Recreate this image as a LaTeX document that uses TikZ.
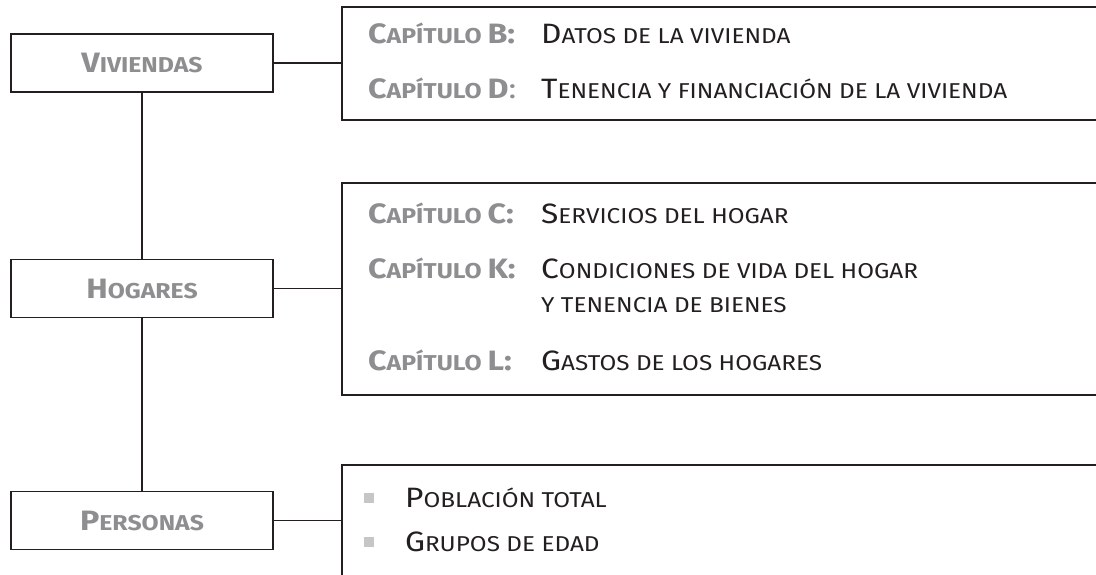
\documentclass[tikz,border=0pt]{standalone}
\usepackage{fontspec}
\usepackage{graphicx}
\setmainfont{Fira Sans}
\definecolor{labgray}{HTML}{8E8E90}
\definecolor{ink}{HTML}{231F20}
\definecolor{bulgray}{HTML}{C6C6C8}
\newcommand\SCx[2]{{\fontsize{28}{30}\selectfont #1}{\fontsize{21.5}{24}\selectfont #2}}
\newlength\tenw
\newlength\capw
\newcommand\HS[1]{\scalebox{\hsd}[1]{#1}}
\newcommand\HL[1]{\scalebox{\hsl}[1]{#1}}
\begin{document}
\settowidth\tenw{\SCx{T}{ENENCIA Y FINANCIACIÓN DE LA VIVIENDA}}%
\settowidth\capw{\bfseries\SCx{C}{APÍTULO }\SCx{B:}{}}%
\pgfmathsetmacro\hsd{466/\tenw}%
\pgfmathsetmacro\hsl{147/\capw}%
\begin{tikzpicture}[x=1pt,y=-1pt,
  leftbox/.style={draw=ink, line width=1.8pt, minimum width=262pt, minimum height=58pt, inner sep=0pt, text=labgray, font=\bfseries},
  lab/.style={anchor=base west, inner sep=0pt, text=labgray, font=\bfseries},
  desc/.style={anchor=base west, inner sep=0pt, text=ink, font=\mdseries},
  bul/.style={fill=bulgray, minimum size=10pt, inner sep=0pt},
  link/.style={draw=ink, line width=1.8pt},
  frame/.style={draw=ink, line width=1.8pt}]
\useasboundingbox (0,0) rectangle (1096,575);
\fill[white] (0,0) rectangle (1096,575);
\clip (0,0) rectangle (1096,575);

% left boxes
\node[leftbox] (viv) at (142,63) {\HL{\SCx{V}{IVIENDAS}}};
\node[leftbox] (hog) at (142,288.5) {\HL{\SCx{H}{OGARES}}};
\node[leftbox] (per) at (142,520.5) {\HL{\SCx{P}{ERSONAS}}};

\draw[link] (viv.south) -- (hog.north);
\draw[link] (hog.south) -- (per.north);

% right frames (open to the right)
\coordinate (b1tl) at (342,7);
\coordinate (b1bl) at (342,120);
\coordinate (b2tl) at (342,183);
\coordinate (b2bl) at (342,395);
\coordinate (b3tl) at (342,465);
\coordinate (b3bl) at (342,580);
\draw[frame] (1100,7) -- (b1tl) -- (b1bl) -- (1100,120);
\draw[frame] (1100,183) -- (b2tl) -- (b2bl) -- (1100,395);
\draw[frame] (1100,465) -- (b3tl) -- (b3bl);

% connectors
\draw[link] (viv.east) -- (viv.east -| b1tl);
\draw[link] (hog.east) -- (hog.east -| b2tl);
\draw[link] (per.east) -- (per.east -| b3tl);

% box 1
\node[lab] (lB) at (368,44) {\HL{\SCx{C}{APÍTULO }\SCx{B:}{}}};
\node[desc] (dB) at (541,44) {\HS{\SCx{D}{ATOS DE LA VIVIENDA}}};
\node[lab] (lD) at (368,99) {\HL{\SCx{C}{APÍTULO }\SCx{D}{}{\mdseries\fontsize{28}{30}\selectfont:}}};
\node[desc] (dD) at (541,99) {\HS{\SCx{T}{ENENCIA Y FINANCIACIÓN DE LA VIVIENDA}}};

% box 2
\node[lab] (lC) at (368,223) {\HL{\SCx{C}{APÍTULO }\SCx{C:}{}}};
\node[desc] (dC) at (541,223) {\HS{\SCx{S}{ERVICIOS DEL HOGAR}}};
\node[lab] (lK) at (368,278) {\HL{\SCx{C}{APÍTULO }\SCx{K:}{}}};
\node[desc] (dK) at (541,278) {\HS{\SCx{C}{ONDICIONES DE VIDA DEL HOGAR}}};
\node[desc] (dK2) at (541,312) {\HS{\SCx{}{Y TENENCIA DE BIENES}}};
\node[lab] (lL) at (368,370) {\HL{\SCx{C}{APÍTULO }\SCx{L:}{}}};
\node[desc] (dL) at (541,370) {\HS{\SCx{G}{ASTOS DE LOS HOGARES}}};

% box 3
\node[bul] (q1) at (369,498) {};
\node[desc] (p1) at (405,507) {\HS{\SCx{P}{OBLACIÓN TOTAL}}};
\node[bul] (q2) at (369,542) {};
\node[desc] (p2) at (405,551) {\HS{\SCx{G}{RUPOS DE EDAD}}};
\end{tikzpicture}
\end{document}
